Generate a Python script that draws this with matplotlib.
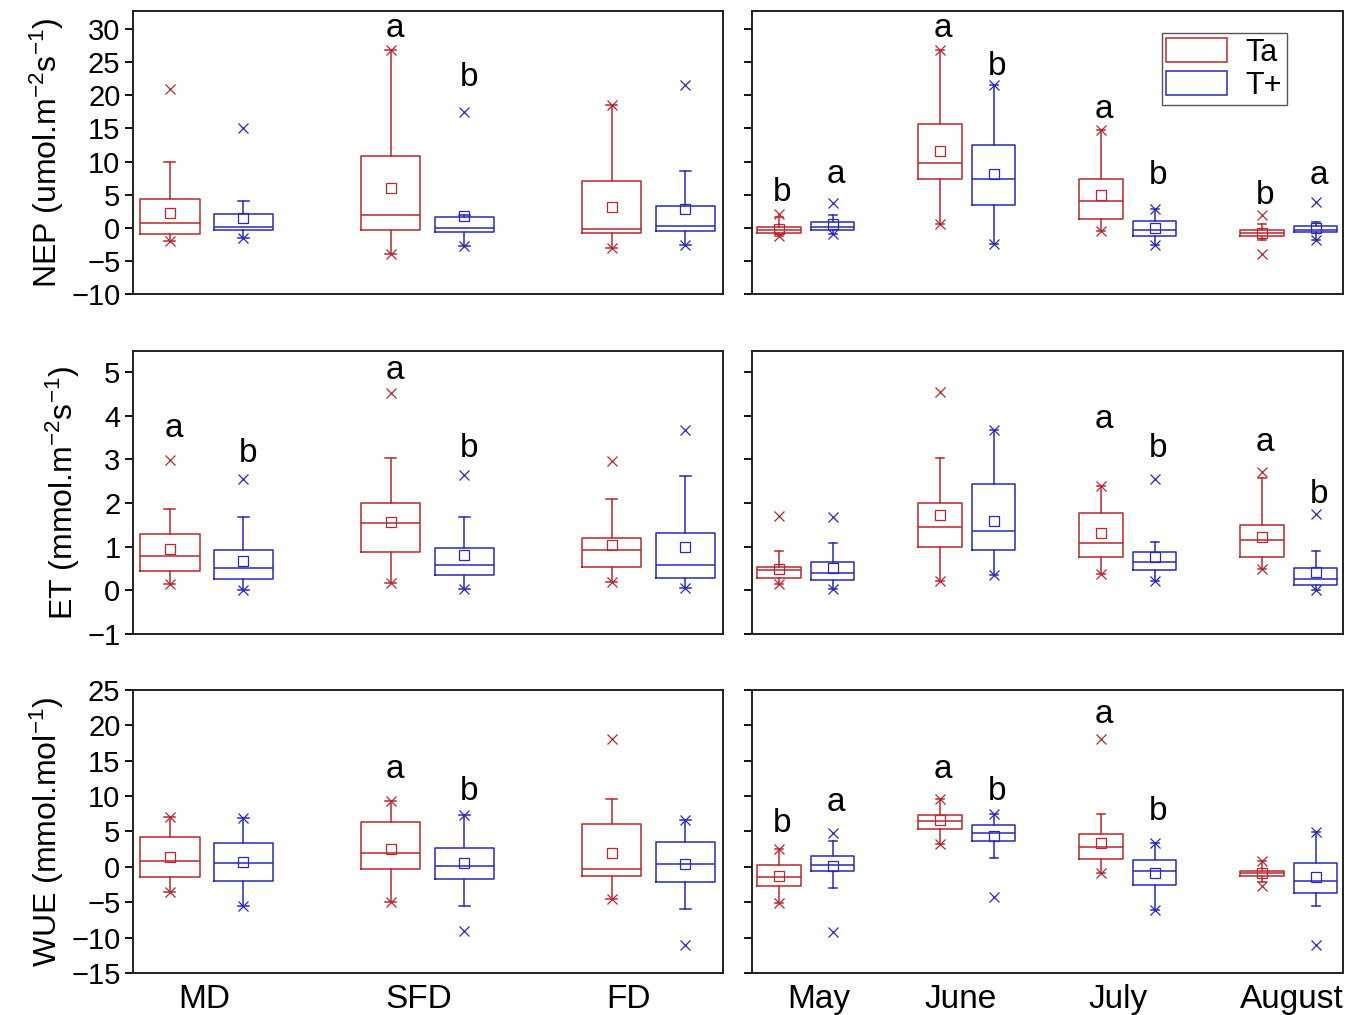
import matplotlib
matplotlib.use("Agg")
import matplotlib.pyplot as plt
from matplotlib.patches import Patch

# --- Style ---
plt.rcParams['font.family'] = ['Liberation Sans', 'DejaVu Sans']
plt.rcParams['mathtext.default'] = 'regular'

RED = '#b8282f'
BLUE = '#2a2ab8'

# --- Data: (lower x, whisker low, q1, median, q3, whisker high, upper x, mean) ---
sites = ['MD', 'SFD', 'FD']
months = ['May', 'June', 'July', 'August']
treatments = ['Ta', 'T+']

nep_site_ta = [(-2.0, -2.0, -0.9, 0.7, 4.3, 10.0, 21.0, 2.3),
               (-3.9, -3.9, -0.4, 1.9, 10.8, 26.8, 26.8, 6.0),
               (-3.0, -3.0, -0.8, -0.15, 7.0, 18.6, 18.6, 3.2)]
nep_site_tp = [(-1.5, -1.5, -0.4, 0.05, 2.1, 4.0, 15.0, 1.5),
               (-2.7, -2.7, -0.7, 0.0, 1.6, 2.0, 17.4, 1.8),
               (-2.6, -2.6, -0.5, 0.25, 3.25, 8.6, 21.5, 2.8)]
nep_month_ta = [(-1.2, -1.2, -0.8, -0.4, 0.15, 1.7, 2.1, -0.15),
                (0.6, 0.6, 7.35, 9.75, 15.6, 26.85, 26.85, 11.6),
                (-0.5, -0.5, 1.25, 4.0, 7.3, 14.7, 14.7, 4.9),
                (-3.9, -1.9, -1.2, -0.8, -0.35, 0.5, 1.95, -0.75)]
nep_month_tp = [(-0.9, -0.9, -0.3, 0.05, 0.9, 1.95, 3.75, 0.6),
                (-2.5, -2.5, 3.5, 7.35, 12.45, 21.6, 21.6, 8.15),
                (-2.65, -2.65, -1.2, -0.3, 1.05, 2.8, 2.8, -0.05),
                (-1.8, -1.8, -0.7, -0.3, 0.2, 0.9, 3.85, -0.1)]

et_site_ta = [(0.15, 0.15, 0.44, 0.78, 1.3, 1.87, 2.98, 0.95),
              (0.17, 0.17, 0.88, 1.55, 2.01, 3.02, 4.51, 1.56),
              (0.18, 0.18, 0.54, 0.93, 1.2, 2.08, 2.97, 1.04)]
et_site_tp = [(0.0, 0.0, 0.25, 0.51, 0.92, 1.67, 2.56, 0.67),
              (0.03, 0.03, 0.36, 0.57, 0.98, 1.67, 2.65, 0.8),
              (0.05, 0.05, 0.28, 0.59, 1.32, 2.61, 3.66, 1.0)]
et_month_ta = [(0.15, 0.15, 0.28, 0.46, 0.54, 0.89, 1.70, 0.49),
               (0.21, 0.21, 0.99, 1.45, 2.01, 3.02, 4.53, 1.73),
               (0.38, 0.38, 0.77, 1.09, 1.78, 2.39, 2.39, 1.32),
               (0.49, 0.49, 0.77, 1.16, 1.5, 2.58, 2.72, 1.22)]
et_month_tp = [(0.04, 0.04, 0.24, 0.4, 0.64, 1.09, 1.67, 0.51),
               (0.35, 0.35, 0.93, 1.35, 2.44, 3.67, 3.67, 1.59),
               (0.21, 0.21, 0.46, 0.64, 0.87, 1.1, 2.54, 0.77),
               (0.0, 0.0, 0.11, 0.27, 0.52, 0.89, 1.74, 0.42)]

wue_site_ta = [(-3.6, -3.6, -1.37, 0.8, 4.2, 7.0, 7.0, 1.37),
               (-5.0, -5.0, -0.28, 1.9, 6.3, 9.3, 9.3, 2.55),
               (-4.52, -4.52, -1.27, -0.24, 6.08, 9.57, 18.05, 1.98)]
wue_site_tp = [(-5.6, -5.6, -2.0, 0.6, 3.35, 6.9, 6.9, 0.7),
               (-9.1, -5.5, -1.65, 0.19, 2.64, 7.35, 7.35, 0.52),
               (-11.0, -6.0, -2.12, 0.47, 3.5, 6.6, 6.6, 0.42)]
wue_month_ta = [(-5.04, -5.04, -2.73, -1.46, 0.33, 2.55, 2.55, -1.32),
                (3.2, 3.2, 5.37, 6.5, 7.26, 9.6, 9.6, 6.6),
                (-0.85, -0.85, 1.18, 2.78, 4.71, 7.45, 18.05, 3.44),
                (-2.64, -2.1, -1.32, -0.9, -0.52, 0.8, 0.8, -0.85)]
wue_month_tp = [(-9.14, -2.97, -0.6, 0.24, 1.5, 3.68, 4.8, 0.09),
                (-4.29, 1.32, 3.68, 4.8, 5.94, 7.45, 7.45, 4.34),
                (-6.03, -6.03, -2.54, -0.52, 1.04, 3.39, 3.39, -0.85),
                (-11.0, -5.5, -3.68, -1.98, 0.52, 4.9, 4.9, -1.5)]

# significance letters: (group index, treatment index, letter, y)
nep_site_letters = [(1, 0, 'a', 30.1), (1, 1, 'b', 22.6)]
nep_month_letters = [(0, 0, 'b', 5.35), (0, 1, 'a', 8.1), (1, 0, 'a', 30.1), (1, 1, 'b', 24.35),
                     (2, 0, 'a', 17.85), (2, 1, 'b', 7.85), (3, 0, 'b', 4.85), (3, 1, 'a', 7.85)]
et_site_letters = [(0, 0, 'a', 3.71), (0, 1, 'b', 3.14), (1, 0, 'a', 5.03), (1, 1, 'b', 3.25)]
et_month_letters = [(2, 0, 'a', 3.92), (2, 1, 'b', 3.25), (3, 0, 'a', 3.38), (3, 1, 'b', 2.2)]
wue_site_letters = [(1, 0, 'a', 13.8), (1, 1, 'b', 10.7)]
wue_month_letters = [(0, 0, 'b', 6.08), (0, 1, 'a', 9.14), (1, 0, 'a', 13.76), (1, 1, 'b', 10.6),
                     (2, 0, 'a', 21.5), (2, 1, 'b', 7.87)]

ylabels = ['NEP (umol.m$^{-2}$s$^{-1}$)', 'ET (mmol.m$^{-2}$s$^{-1}$)', 'WUE (mmol.mol$^{-1}$)']
ylims = [(-10, 32.7), (-1, 5.48), (-15, 25)]
yticks = [range(-10, 31, 5), range(-1, 6, 1), range(-15, 26, 5)]

# where the category names sit under each panel (slightly off the group centres)
site_label_pos = [0.99, 1.96, 2.91]
month_label_pos = [1.08, 1.96, 2.94, 4.02]

OFFSET = 0.167
BOX_W = 0.27


def to_stats(rows):
    out = []
    for lo, wlo, q1, med, q3, whi, hi, mean in rows:
        out.append(dict(med=med, q1=q1, q3=q3, whislo=wlo, whishi=whi,
                        mean=mean, fliers=[lo, hi]))
    return out


def draw_panel(ax, ta_rows, tp_rows, letters, ngroups):
    for rows, color, sign in [(ta_rows, RED, -1), (tp_rows, BLUE, 1)]:
        pos = [g + 1 + sign * OFFSET for g in range(ngroups)]
        lp = dict(color=color, linewidth=1.1)
        ax.bxp(to_stats(rows), positions=pos, widths=BOX_W, showmeans=True,
               showfliers=True, capwidths=0.05,
               boxprops=lp, whiskerprops=lp, capprops=lp, medianprops=lp,
               meanprops=dict(marker='s', markerfacecolor='none', markeredgecolor=color,
                              markersize=6.5, markeredgewidth=0.9),
               flierprops=dict(marker='x', markeredgecolor=color, markersize=7.5,
                               markeredgewidth=0.9, linestyle='none'),
               manage_ticks=False)
    for g, t, txt, y in letters:
        x = g + 1 + (OFFSET if t == 1 else -OFFSET)
        ax.text(x + 0.02, y, txt, ha='center', va='center', fontsize=24)
    ax.set_xlim(0.667, ngroups + 0.337)
    for s in ax.spines.values():
        s.set_linewidth(1.4)
        s.set_color('#222222')
    ax.tick_params(axis='y', direction='out', length=6, width=1.3, labelsize=21, pad=3)
    ax.tick_params(axis='x', length=0, labelsize=24, pad=8)


fig = plt.figure(figsize=(13.57, 10.15), dpi=100)
left_rect = [0.098, 0.4348]
right_rect = [0.5542, 0.4355]
row_bottoms = [0.7103, 0.3754, 0.0414]
row_h = 0.2788

site_data = [(nep_site_ta, nep_site_tp, nep_site_letters),
             (et_site_ta, et_site_tp, et_site_letters),
             (wue_site_ta, wue_site_tp, wue_site_letters)]
month_data = [(nep_month_ta, nep_month_tp, nep_month_letters),
              (et_month_ta, et_month_tp, et_month_letters),
              (wue_month_ta, wue_month_tp, wue_month_letters)]

for r in range(3):
    axl = fig.add_axes([left_rect[0], row_bottoms[r], left_rect[1], row_h])
    axr = fig.add_axes([right_rect[0], row_bottoms[r], right_rect[1], row_h])
    draw_panel(axl, *site_data[r], len(sites))
    draw_panel(axr, *month_data[r], len(months))
    for ax in (axl, axr):
        ax.set_ylim(*ylims[r])
        ax.set_yticks(list(yticks[r]))
    axr.set_yticklabels([])
    axl.set_ylabel(ylabels[r], fontsize=23, labelpad=4)
    if r == 2:
        axl.set_xticks(site_label_pos)
        axl.set_xticklabels(sites)
        axr.set_xticks(month_label_pos)
        axr.set_xticklabels(months)
    else:
        axl.set_xticks([])
        axr.set_xticks([])
    if r == 0:
        handles = [Patch(facecolor='none', edgecolor=RED, linewidth=1.1),
                   Patch(facecolor='none', edgecolor=BLUE, linewidth=1.1)]
        leg = axr.legend(handles, treatments, loc='upper right', bbox_to_anchor=(0.905, 0.922),
                         borderaxespad=0, fontsize=22, handlelength=2.0, handleheight=0.85,
                         fancybox=False, framealpha=1, edgecolor='#555555',
                         borderpad=0.15, labelspacing=0.1, handletextpad=0.6)
        leg.get_frame().set_linewidth(1.0)

fig.savefig('out.png', dpi=100)
